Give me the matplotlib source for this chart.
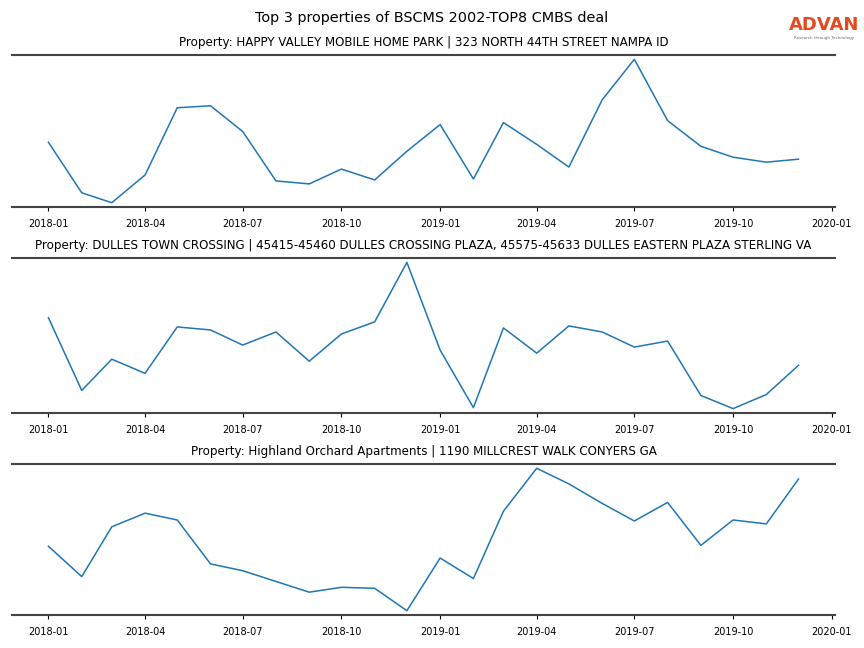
import matplotlib
matplotlib.use('Agg')
import matplotlib.pyplot as plt
import matplotlib.dates as mdates
import numpy as np
import pandas as pd

months = pd.date_range('2018-01-01', '2019-12-01', freq='MS')

titles = [
    'Property: HAPPY VALLEY MOBILE HOME PARK | 323 NORTH 44TH STREET NAMPA ID',
    'Property: DULLES TOWN CROSSING | 45415-45460 DULLES CROSSING PLAZA, 45575-45633 DULLES EASTERN PLAZA STERLING VA',
    'Property: Highland Orchard Apartments | 1190 MILLCREST WALK CONYERS GA',
]

visits_happy_valley = [164, 113, 103, 131, 199, 201, 175, 125, 122, 137, 126, 155,
                       182, 127, 184, 162, 139, 207, 248, 186, 160, 149, 144, 147]
visits_dulles = [195, 123, 154, 140, 186, 183, 168, 181, 152, 179, 191, 250,
                 163, 106, 185, 160, 187, 181, 166, 172, 118, 105, 119, 148]
visits_highland = [168, 137, 188, 202, 195, 150, 143, 132, 121, 126, 125, 102,
                   156, 135, 204, 248, 232, 212, 194, 213, 169, 195, 191, 237]

series = [visits_happy_valley, visits_dulles, visits_highland]

fig = plt.figure(figsize=(8.64, 6.48), dpi=100)
# axes boxes in pixels: (top, bottom)
boxes = [(55, 207), (258, 413), (464, 615)]
axes = [fig.add_axes([12 / 864, 1 - b / 648, 823 / 864, (b - t) / 648]) for t, b in boxes]

fig.suptitle('Top 3 properties of BSCMS 2002-TOP8 CMBS deal', fontsize=10.4, y=0.983)

for ax, title, vals in zip(axes, titles, series):
    ax.plot(months, vals, color='#1f77b4', linewidth=1.1)
    ax.set_title(title, fontsize=8.55, pad=6.5)
    ax.set_yticks([])
    ax.margins(y=0.03)
    ax.set_xlim(pd.Timestamp('2017-11-28'), pd.Timestamp('2020-01-04'))
    ax.xaxis.set_major_locator(mdates.MonthLocator(bymonth=[1, 4, 7, 10]))
    ax.xaxis.set_major_formatter(mdates.DateFormatter('%Y-%m'))
    ax.tick_params(axis='x', labelsize=7, length=3, width=0.8, pad=5.5)
    for side in ['left', 'right']:
        ax.spines[side].set_visible(False)
    for side in ['top', 'bottom']:
        ax.spines[side].set_color('#444444')
        ax.spines[side].set_linewidth(1.5)

# logo
fig.text(0.954, 0.961, 'ADVAN', color='#e5491f', fontsize=13, fontweight='semibold',
         ha='center', va='center')
fig.text(0.954, 0.942, 'Research through Technology', color='#666666', fontsize=2.9,
         ha='center', va='center')

fig.savefig('out.png', dpi=100)
